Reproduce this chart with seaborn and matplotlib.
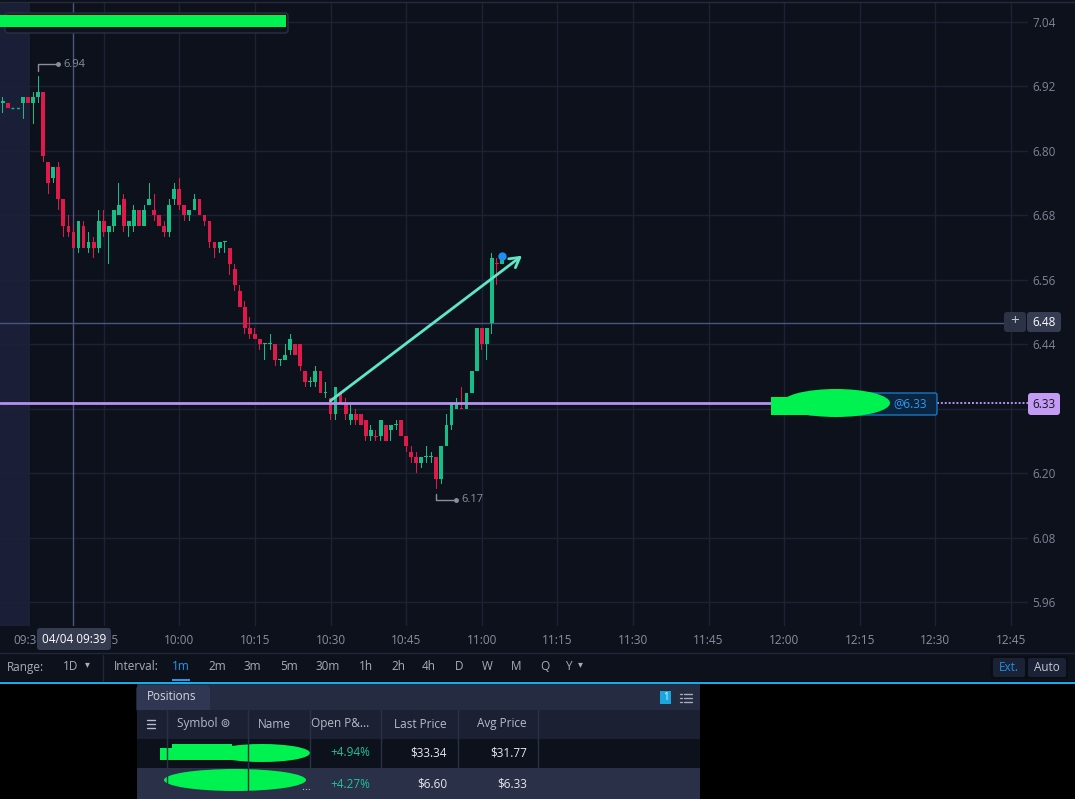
import numpy as np
import pandas as pd
import matplotlib
matplotlib.use("Agg")
import matplotlib.pyplot as plt
from matplotlib.patches import Rectangle, FancyBboxPatch, Ellipse
import seaborn as sns

# ---------------- data ----------------
minutes = [-5, -4, -1, 0, 1, 2, 3, 4, 5, 6, 7, 8, 9, 10, 11, 12, 13, 14, 15, 16, 17, 18, 19,
           20, 21, 22, 23, 24, 25, 26, 27, 28, 29, 30, 31, 32, 33, 34, 35, 36, 37, 38, 39,
           40, 41, 42, 43, 44, 45, 46, 47, 48, 49, 50, 51, 52, 53, 54, 55, 56, 57, 58, 59,
           60, 61, 62, 63, 64, 65, 66, 67, 68, 69, 70, 71, 72, 73, 74, 75, 76, 77, 78, 79,
           80, 81, 82, 83, 84, 85, 86, 87, 88, 89, 90, 91, 92, 93, 94]
opens = [6.89, 6.89, 6.89, 6.90, 6.89, 6.90, 6.91, 6.78, 6.75, 6.77, 6.71, 6.66, 6.65, 6.62, 6.66,
         6.62, 6.63, 6.62, 6.67, 6.65, 6.66, 6.68, 6.71, 6.66, 6.66, 6.69, 6.66, 6.70, 6.69, 6.68,
         6.66, 6.65, 6.71, 6.73, 6.70, 6.68, 6.69, 6.71, 6.68, 6.67, 6.63, 6.62, 6.63, 6.62, 6.58,
         6.54, 6.51, 6.47, 6.46, 6.45, 6.44, 6.44, 6.44, 6.41, 6.41, 6.43, 6.44, 6.44, 6.39, 6.37,
         6.37, 6.39, 6.35, 6.34, 6.31, 6.35, 6.33, 6.30, 6.31, 6.31, 6.30, 6.27, 6.270, 6.27, 6.29,
         6.28, 6.29, 6.30, 6.27, 6.24, 6.23, 6.22, 6.23, 6.23, 6.23, 6.19, 6.25, 6.29, 6.32, 6.322,
         6.32, 6.35, 6.39, 6.47, 6.44, 6.48, 6.592, 6.59]
highs = [6.90, 6.89, 6.90, 6.90, 6.91, 6.94, 6.91, 6.78, 6.77, 6.78, 6.71, 6.68, 6.66, 6.67, 6.67,
         6.65, 6.64, 6.69, 6.69, 6.66, 6.69, 6.74, 6.72, 6.67, 6.70, 6.69, 6.70, 6.74, 6.72, 6.68,
         6.67, 6.71, 6.74, 6.75, 6.70, 6.69, 6.72, 6.71, 6.68, 6.67, 6.63, 6.63, 6.63, 6.62, 6.59,
         6.55, 6.52, 6.49, 6.47, 6.45, 6.44, 6.46, 6.44, 6.41, 6.44, 6.46, 6.44, 6.44, 6.39, 6.38,
         6.40, 6.39, 6.37, 6.34, 6.36, 6.35, 6.34, 6.33, 6.32, 6.31, 6.30, 6.29, 6.28, 6.30, 6.29,
         6.29, 6.30, 6.30, 6.27, 6.25, 6.24, 6.23, 6.25, 6.24, 6.23, 6.25, 6.31, 6.33, 6.34, 6.36,
         6.35, 6.39, 6.47, 6.47, 6.47, 6.61, 6.60, 6.60]
lows = [6.87, 6.88, 6.86, 6.89, 6.85, 6.89, 6.78, 6.72, 6.74, 6.69, 6.64, 6.64, 6.62, 6.61, 6.62,
        6.61, 6.60, 6.61, 6.64, 6.59, 6.65, 6.68, 6.65, 6.64, 6.65, 6.66, 6.66, 6.70, 6.67, 6.66,
        6.64, 6.64, 6.70, 6.69, 6.67, 6.67, 6.69, 6.68, 6.66, 6.62, 6.60, 6.61, 6.61, 6.57, 6.54,
        6.51, 6.46, 6.45, 6.45, 6.43, 6.41, 6.43, 6.40, 6.40, 6.41, 6.42, 6.42, 6.39, 6.36, 6.36,
        6.36, 6.35, 6.34, 6.30, 6.30, 6.33, 6.30, 6.29, 6.29, 6.29, 6.26, 6.26, 6.26, 6.26, 6.26,
        6.26, 6.28, 6.27, 6.24, 6.22, 6.20, 6.21, 6.22, 6.22, 6.17, 6.18, 6.25, 6.28, 6.32, 6.32,
        6.32, 6.35, 6.39, 6.43, 6.41, 6.46, 6.55, 6.59]
closes = [6.89, 6.88, 6.90, 6.89, 6.90, 6.91, 6.79, 6.74, 6.77, 6.71, 6.66, 6.65, 6.62, 6.67, 6.62,
          6.63, 6.62, 6.67, 6.65, 6.66, 6.69, 6.70, 6.66, 6.67, 6.69, 6.66, 6.69, 6.71, 6.68, 6.66,
          6.65, 6.70, 6.73, 6.70, 6.68, 6.69, 6.71, 6.68, 6.67, 6.63, 6.62, 6.63, 6.63, 6.59, 6.55,
          6.51, 6.47, 6.46, 6.45, 6.44, 6.44, 6.44, 6.41, 6.41, 6.42, 6.45, 6.42, 6.40, 6.37, 6.37,
          6.39, 6.35, 6.35, 6.31, 6.36, 6.33, 6.31, 6.31, 6.30, 6.29, 6.27, 6.28, 6.267, 6.30, 6.26,
          6.29, 6.29, 6.27, 6.25, 6.23, 6.22, 6.23, 6.23, 6.23, 6.19, 6.25, 6.29, 6.33, 6.33, 6.320,
          6.35, 6.39, 6.47, 6.44, 6.47, 6.60, 6.590, 6.60]

gap_minutes = [-3, -2]          # pre-market minutes without trades (dashed)
gap_price = 6.88

time_ticks = [0, 15, 30, 45, 60, 75, 90, 105, 120, 135, 150, 165, 180, 195]
time_labels = ["09:30", "09:45", "10:00", "10:15", "10:30", "10:45", "11:00", "11:15",
               "11:30", "11:45", "12:00", "12:15", "12:30", "12:45"]
price_ticks = [7.04, 6.92, 6.80, 6.68, 6.56, 6.44, 6.32, 6.20, 6.08, 5.96]

session_open_minute = 0.4
crosshair_minute = 9
crosshair_price = 6.48
crosshair_label = "04/04 09:39"
position_price = 6.33
high_mark = (2, 6.94)
low_mark = (81, 6.17)
arrow_start = (60, 6.335)
arrow_end = (98, 6.605)

range_label = "1D"
interval_labels = ["1m", "2m", "3m", "5m", "30m", "1h", "2h", "4h", "D", "W", "M", "Q", "Y"]

table_headers = ["Symbol", "Name", "Open P&...", "Last Price", "Avg Price"]
open_pnl = ["+4.94%", "+4.27%"]
last_price = ["$33.34", "$6.60"]
avg_price = ["$31.77", "$6.33"]

# ---------------- style ----------------
sns.set_style("dark")
plt.rcParams["font.family"] = ["Open Sans", "DejaVu Sans"]

BG = "#0d111c"
GRID = "#1d2233"
UP = "#16be87"
DOWN = "#e0194b"
TXT = "#7f8495"
SCRIB = "#00f250"
CROSS = "#4a5582"

W, H = 1075, 799
fig = plt.figure(figsize=(W / 100, H / 100), dpi=100, facecolor="black")

# background layer (pixel coordinates)
bg = fig.add_axes([0, 0, 1, 1], zorder=0)
bg.set_xlim(0, W); bg.set_ylim(H, 0); bg.axis("off")
bg.add_patch(Rectangle((0, 0), W, 653, fc=BG, ec="none"))
bg.add_patch(Rectangle((0, 653), W, 28, fc=BG, ec="none"))
bg.add_patch(Rectangle((0, 683), W, H - 683, fc="black", ec="none"))

# main chart axes
top_px, bot_px, right_px = 2, 626, 1028
y_per_px = 0.12 / 64.47
x_per_px = 1 / 5.04
ax = fig.add_axes([0, 1 - bot_px / H, right_px / W, (bot_px - top_px) / H], zorder=1)
ax.set_facecolor(BG)

m_arr = np.asarray(minutes, float)
o_arr = np.asarray(opens); c_arr = np.asarray(closes)
h_arr = np.asarray(highs); l_arr = np.asarray(lows)
up = c_arr >= o_arr


def draw_bars(xs, bottoms, heights, color, width, z):
    df = pd.DataFrame({"minute": np.asarray(xs, float), "span": np.asarray(heights, float)})
    try:
        sns.barplot(data=df, x="minute", y="span", native_scale=True, errorbar=None,
                    color=color, saturation=1, width=width,
                    bottom=np.asarray(bottoms, float), linewidth=0, edgecolor=color,
                    ax=ax, zorder=z)
    except Exception:
        ax.bar(df["minute"], df["span"], bottom=bottoms, width=width, color=color,
               linewidth=0, zorder=z)


min_body = 0.0022
for mask, col in ((up, UP), (~up, DOWN)):
    xs = m_arr[mask]
    draw_bars(xs, l_arr[mask], h_arr[mask] - l_arr[mask], col, 0.2, 2)
    lo = np.minimum(o_arr[mask], c_arr[mask])
    hi = np.maximum(o_arr[mask], c_arr[mask])
    draw_bars(xs, lo, np.maximum(hi - lo, min_body), col, 0.76, 3)

ax.set_xlabel(""); ax.set_ylabel("")

x_left = -28.1 * x_per_px
x_right = x_left + right_px * x_per_px
y_top = 7.04 + (22 - top_px) * y_per_px
y_bot = 7.04 - (bot_px - 22) * y_per_px

# pre-market shading
ax.axvspan(x_left, session_open_minute, color="#1a1e37", zorder=0.2, lw=0)
# grid
for t in time_ticks:
    ax.axvline(t, color=GRID, lw=1, zorder=0.3)
for p in price_ticks:
    ax.axhline(p, color=GRID, lw=1, zorder=0.3)
# crosshair
ax.axvline(crosshair_minute, color=CROSS, lw=1, zorder=0.6)
ax.axhline(crosshair_price, xmax=1004 / right_px, color=CROSS, lw=1, zorder=0.6)
# dashed pre-market gap
ax.plot([min(gap_minutes) - 0.4, max(gap_minutes) + 0.4], [gap_price, gap_price],
        color=UP, lw=1, ls=(0, (2, 2)), zorder=2)
# position line
ax.axhline(position_price, xmax=808 / right_px, color="#b690f2", lw=2, zorder=4)
ax.axhline(position_price, xmin=937 / right_px, xmax=1.0, color="#b690f2", lw=1.4,
           ls=(0, (1, 1)), zorder=4)

# high / low markers
hx, hy = high_mark
ax.plot([hx, hx, hx + 3.9], [hy + 0.009, hy + 0.021, hy + 0.021], color="#8a8f9e", lw=1, zorder=4)
ax.plot([hx + 3.9], [hy + 0.021], "o", ms=2.5, color="#8a8f9e", zorder=4)
ax.text(hx + 4.9, hy + 0.021, f"{hy:.2f}", color="#8a8f9e", fontsize=8, va="center", ha="left")
lx, ly = low_mark
ax.plot([lx, lx, lx + 3.9], [ly - 0.008, ly - 0.019, ly - 0.019], color="#8a8f9e", lw=1, zorder=4)
ax.plot([lx + 3.9], [ly - 0.019], "o", ms=2.5, color="#8a8f9e", zorder=4)
ax.text(lx + 5.0, ly - 0.019, f"{ly:.2f}", color="#8a8f9e", fontsize=8, va="center", ha="left")

# trend arrow
ax.annotate("", xy=arrow_end, xytext=arrow_start,
            arrowprops=dict(arrowstyle="->,head_length=0.7,head_width=0.4",
                            color="#5fe6c8", lw=2, shrinkA=0, shrinkB=0), zorder=5)
# last trade marker
ax.plot([minutes[-1]], [closes[-1] + 0.004], "o", ms=5, color="#1e8ff5", zorder=6)

ax.set_xlim(x_left, x_right)
ax.set_ylim(y_bot, y_top)
ax.set_xticks(time_ticks)
ax.set_xticklabels(time_labels)
ax.set_yticks(price_ticks)
# the tick hidden behind the position price tag carries no visible label
ax.set_yticklabels(["" if abs(p - position_price) < 0.02 else f"{p:.2f}" for p in price_ticks])
ax.yaxis.tick_right()
ax.tick_params(axis="x", length=0, pad=6, labelcolor="#8a8f9f", labelsize=8.5)
ax.tick_params(axis="y", length=0, pad=3, labelcolor=TXT, labelsize=8.5)
for s in ax.spines.values():
    s.set_visible(False)
ax.grid(False)

# ---------------- overlay (pixel coordinates) ----------------
ov = fig.add_axes([0, 0, 1, 1], zorder=3)
ov.set_xlim(0, W); ov.set_ylim(H, 0); ov.axis("off")
ov.patch.set_alpha(0)

ov.plot([0, W], [1.5, 1.5], color="#262b3c", lw=1)

# legend box with redaction
ov.add_patch(FancyBboxPatch((5, 13), 283, 20, boxstyle="round,pad=0,rounding_size=3",
                            fc="#0f1320", ec="#2a3042", lw=1))
ov.add_patch(Rectangle((0, 15), 286, 12, fc=SCRIB, ec="none"))

# crosshair time tooltip
ov.add_patch(FancyBboxPatch((37, 628), 74, 22, boxstyle="round,pad=0,rounding_size=3",
                            fc="#363c50", ec="none"))
ov.text(74, 639.5, crosshair_label, color="white", fontsize=8.5, ha="center", va="center")

# crosshair price label
ov.add_patch(FancyBboxPatch((1004, 312), 22, 20, boxstyle="round,pad=0,rounding_size=3",
                            fc="#2d3347", ec="none"))
ov.text(1015, 321.5, "+", color="#c0c4cf", fontsize=11, ha="center", va="center")
ov.add_patch(FancyBboxPatch((1027, 312), 34, 20, boxstyle="round,pad=0,rounding_size=3",
                            fc="#363c52", ec="none"))
ov.text(1044, 322, f"{crosshair_price:.2f}", color="white", fontsize=8.5, ha="center", va="center")

# position tag
ov.add_patch(FancyBboxPatch((808, 393), 129, 22, boxstyle="round,pad=0,rounding_size=2",
                            fc="#0b2440", ec="#1b75c0", lw=1))
ov.text(893, 404, f"@{position_price:.2f}", color="#2a9df4", fontsize=8.5, ha="left", va="center")
ov.add_patch(Ellipse((836, 403), 108, 28, fc=SCRIB, ec="none"))
ov.add_patch(Rectangle((771, 397), 45, 18, fc=SCRIB, ec="none"))
ov.add_patch(FancyBboxPatch((1028, 393), 32, 22, boxstyle="round,pad=0,rounding_size=3",
                            fc="#c39bf5", ec="none"))
ov.text(1044, 404, f"{position_price:.2f}", color="#14141e", fontsize=8.5, ha="center", va="center")

# toolbar
ov.plot([0, W], [653, 653], color="#222738", lw=1)
ov.plot([103, 103], [655, 681], color="#222738", lw=1)
tb = "#a9adba"
ov.text(7, 667, "Range:", color=tb, fontsize=8.5, va="center")
ov.text(63, 667, range_label, color=tb, fontsize=8.5, va="center")
ov.text(85, 665, "▾", color=tb, fontsize=7, va="center")
ov.text(114, 667, "Interval:", color=tb, fontsize=8.5, va="center")
iv_x = [172, 208, 243, 280, 316, 359, 391, 422, 455, 482, 511, 540, 565]
for lab, xx in zip(interval_labels, iv_x):
    ov.text(xx, 667, lab, color="#1e9bf0" if lab == "1m" else tb, fontsize=8.5, va="center")
ov.text(578, 665, "▾", color=tb, fontsize=7, va="center")
ov.add_patch(Rectangle((172, 678.5), 18, 2, fc="#1e9bf0", ec="none"))
ov.add_patch(FancyBboxPatch((990, 656), 78, 23, boxstyle="round,pad=0,rounding_size=3",
                            fc="#0a0d16", ec="none"))
ov.add_patch(FancyBboxPatch((993, 658), 32, 19, boxstyle="round,pad=0,rounding_size=2",
                            fc="#1b2236", ec="none"))
ov.add_patch(FancyBboxPatch((1028, 658), 38, 19, boxstyle="round,pad=0,rounding_size=2",
                            fc="#1b2236", ec="none"))
ov.text(1009, 667.5, "Ext.", color="#1f8fe0", fontsize=8.5, ha="center", va="center")
ov.text(1047, 667.5, "Auto", color="#c5c9d3", fontsize=8.5, ha="center", va="center")
ov.add_patch(Rectangle((0, 681.5), W, 2, fc="#14aef0", ec="none"))

# positions panel
px0, px1 = 137, 700
ov.add_patch(Rectangle((px0, 684), px1 - px0, 26, fc="#252b40", ec="none"))
ov.add_patch(FancyBboxPatch((px0, 686), 72, 26, boxstyle="round,pad=0,rounding_size=3",
                            fc="#303752", ec="#3a4260", lw=0.8))
ov.add_patch(Rectangle((px0, 686), 72, 24, fc="#303752", ec="none"))
ov.text(147, 697, "Positions", color="#d3d7e0", fontsize=8.5, va="center")
ov.add_patch(Rectangle((660, 691), 11, 13, fc="#1aa7e0", ec="none"))
ov.text(665.5, 697.5, "1", color="#e8f6ff", fontsize=7, ha="center", va="center")
for yy in (694, 698, 702):
    ov.plot([680, 681.5], [yy, yy], color="#a9adba", lw=1)
    ov.plot([683.5, 692], [yy, yy], color="#a9adba", lw=1)

ov.add_patch(Rectangle((px0, 710), px1 - px0, 29, fc="#1b2032", ec="none"))
ov.add_patch(Rectangle((px0, 739), px1 - px0, 29, fc="#0d111c", ec="none"))
ov.add_patch(Rectangle((px0, 768), px1 - px0, 31, fc="#2a3047", ec="none"))
for xx in (167, 248, 310, 381, 458, 538):
    ov.plot([xx, xx], [710, 799], color="#2b3145", lw=1)
for yy in (720, 724, 728):
    ov.plot([147, 155], [yy, yy], color="#b8bcc8", lw=1)
hc = "#b8bcc8"
ov.text(177, 724, table_headers[0] + " ⊚", color=hc, fontsize=8.5, va="center")
ov.text(258, 724, table_headers[1], color=hc, fontsize=8.5, va="center")
ov.text(311, 724, table_headers[2], color=hc, fontsize=8.5, va="center")
ov.text(447, 724, table_headers[3], color=hc, fontsize=8.5, va="center", ha="right")
ov.text(527, 724, table_headers[4], color=hc, fontsize=8.5, va="center", ha="right")
for i, yy in enumerate((753, 784)):
    ov.text(370, yy, open_pnl[i], color="#1fc59b", fontsize=8.5, va="center", ha="right")
    ov.text(447, yy, last_price[i], color="#e6e8ee", fontsize=8.5, va="center", ha="right")
    ov.text(527, yy, avg_price[i], color="#e6e8ee", fontsize=8.5, va="center", ha="right")
ov.text(301, 787, "…", color="#c0c4cf", fontsize=8, va="center")
# redaction scribbles in table
ov.add_patch(Ellipse((262, 753), 96, 18, fc=SCRIB, ec="none"))
ov.add_patch(Rectangle((160, 748), 110, 12, fc=SCRIB, ec="none"))
ov.add_patch(Rectangle((172, 744), 60, 8, fc=SCRIB, ec="none"))
ov.add_patch(Ellipse((235, 780), 142, 22, fc=SCRIB, ec="none"))

fig.savefig("out.png", dpi=100, facecolor="black")
